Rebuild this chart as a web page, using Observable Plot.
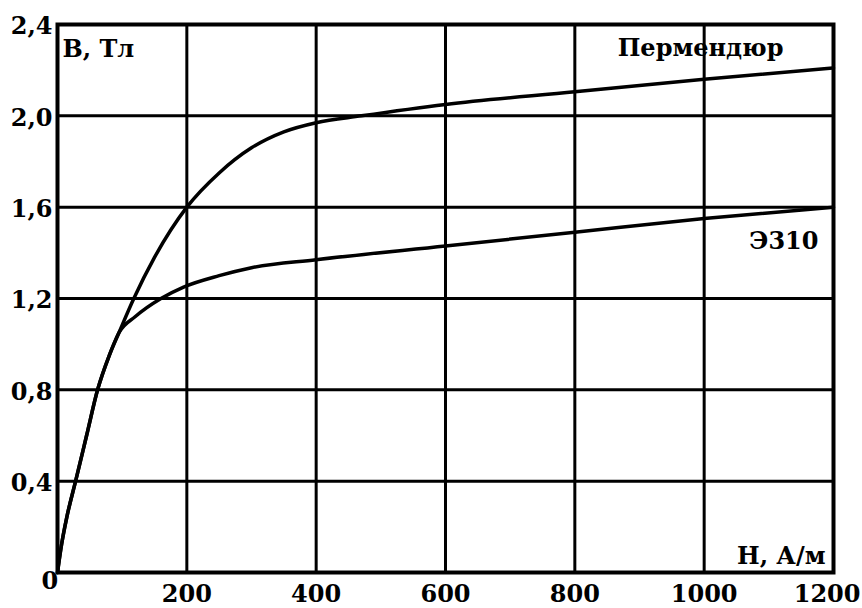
<!DOCTYPE html>
<html>
<head>
<meta charset="utf-8">
<script src="https://cdn.jsdelivr.net/npm/d3@7"></script>
<script src="https://cdn.jsdelivr.net/npm/@observablehq/plot@0.6"></script>
<style>
  html, body { margin: 0; padding: 0; background: #fff; }
  #chart svg { display: block; }
  #chart svg text { font-family: "DejaVu Serif", serif !important; font-weight: bold; }
</style>
</head>
<body>
<div id="chart"></div>
<script>
// Tick values and labels
const xTicks = [200, 400, 600, 800, 1000, 1200];
const xTickLabels = ["200", "400", "600", "800", "1000", "1200"];
const yTicks = [0.4, 0.8, 1.2, 1.6, 2.0, 2.4];
const yTickLabels = ["0,4", "0,8", "1,2", "1,6", "2,0", "2,4"];
const gridX = [200, 400, 600, 800, 1000];
const gridY = [0.4, 0.8, 1.2, 1.6, 2.0];

// Series: Пермендюр
const hPerm = [0, 5, 15, 28, 45, 62, 80, 95, 118, 150, 200, 250, 300, 350, 400, 470, 600, 800, 1000, 1200];
const bPerm = [0, 0.1, 0.25, 0.4, 0.6, 0.8, 0.95, 1.05, 1.2, 1.38, 1.6, 1.75, 1.86, 1.93, 1.97, 2.0, 2.05, 2.105, 2.16, 2.21];
// Series: Э310
const hE310 = [0, 5, 15, 28, 45, 62, 80, 95, 120, 160, 195, 250, 300, 400, 600, 800, 1000, 1200];
const bE310 = [0, 0.1, 0.25, 0.4, 0.6, 0.8, 0.95, 1.05, 1.12, 1.2, 1.25, 1.30, 1.335, 1.37, 1.43, 1.49, 1.55, 1.60];

const seriesNames = ["Пермендюр", "Э310"];
const yAxisTitle = "B, Тл";
const xAxisTitle = "H, А/м";

const perm = hPerm.map((h, i) => ({H: h, B: bPerm[i]}));
const e310 = hE310.map((h, i) => ({H: h, B: bE310[i]}));

const font = "DejaVu Serif";
const fs = 24;
const txt = {fill: "#000", fontFamily: font, fontSize: fs, fontWeight: "bold"};

const lastTick = xTicks.length - 1;

const chart = Plot.plot({
  width: 862,
  height: 608,
  marginLeft: 57,
  marginRight: 29,
  marginTop: 24,
  marginBottom: 36,
  style: {fontFamily: font, fontWeight: "bold", fontSize: fs + "px", color: "#000", background: "#fff"},
  x: {domain: [0, 1200], axis: null},
  y: {domain: [0, 2.4], axis: null},
  marks: [
    Plot.ruleX(gridX, {x: d => d, stroke: "#000", strokeWidth: 3}),
    Plot.ruleY(gridY, {y: d => d, stroke: "#000", strokeWidth: 3}),
    Plot.frame({stroke: "#000", strokeWidth: 4}),
    Plot.line(perm, {x: "H", y: "B", stroke: "#000", strokeWidth: 3.5, curve: "monotone-x"}),
    Plot.line(e310, {x: "H", y: "B", stroke: "#000", strokeWidth: 3.5, curve: "monotone-x"}),
    // x tick labels (the last one kept inside the picture's right edge)
    Plot.text(xTicks.slice(0, lastTick), {x: d => d, text: (d, i) => xTickLabels[i], frameAnchor: "bottom", dy: 22, lineAnchor: "middle", ...txt}),
    Plot.text([xTicks[lastTick]], {x: d => d, text: () => xTickLabels[lastTick], frameAnchor: "bottom", textAnchor: "end", dx: 27, dy: 22, lineAnchor: "middle", ...txt}),
    // y tick labels
    Plot.text(yTicks, {y: d => d, text: (d, i) => yTickLabels[i], frameAnchor: "left", textAnchor: "end", dx: -5, dy: 2, ...txt}),
    Plot.text(["0"], {text: d => d, frameAnchor: "bottom-left", dx: -16, dy: 16, ...txt}),
    // axis titles
    Plot.text([yAxisTitle], {text: d => d, frameAnchor: "top-left", dx: 5, dy: 15, textAnchor: "start", ...txt}),
    Plot.text([xAxisTitle], {text: d => d, frameAnchor: "bottom-right", dx: -8, dy: -9, textAnchor: "end", ...txt}),
    // series labels at last points
    Plot.text([perm[perm.length - 1]], {x: "H", y: "B", text: () => seriesNames[0], textAnchor: "end", dx: -50, dy: -20, ...txt}),
    Plot.text([e310[e310.length - 1]], {x: "H", y: "B", text: () => seriesNames[1], textAnchor: "end", dx: -15, dy: 34, ...txt})
  ]
});
document.getElementById("chart").appendChild(chart);
</script>
</body>
</html>
